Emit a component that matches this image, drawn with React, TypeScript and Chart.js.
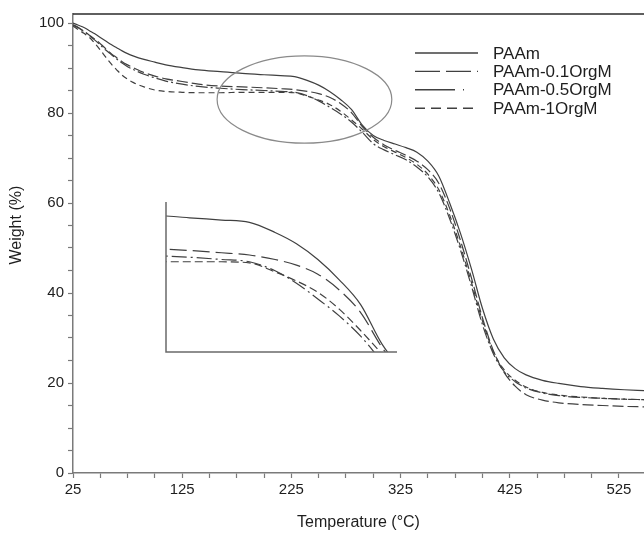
import React, { useEffect, useRef } from "react";
import { Chart, registerables } from "chart.js";

Chart.register(...registerables);

// ---- data ----
const temperatures = [
  25, 30, 35, 40, 45, 50, 55, 60, 65, 70, 75, 80,
  90, 100, 110, 125, 140, 160, 180, 200, 215, 228,
  240, 250, 260, 270, 280, 290, 300, 310, 320, 330,
  340, 350, 360, 370, 380, 390, 400, 410, 420, 430,
  440, 455, 470, 490, 510, 530, 548,
];

const paam = [
  100, 99.5, 99.0, 98.3, 97.6, 96.8, 96.0, 95.2, 94.5, 93.8, 93.2, 92.7,
  91.9, 91.3, 90.7, 90.1, 89.6, 89.2, 88.8, 88.5, 88.3, 88.1,
  87.2, 86.2, 84.8, 83.0, 80.8, 77.3, 75.0, 73.9, 73.1, 72.3,
  71.3, 69.3, 66.0, 60.0, 53.2, 45.3, 36.6, 29.8, 25.6, 23.2,
  21.8, 20.6, 19.9, 19.2, 18.8, 18.5, 18.3,
];

const paam01 = [
  99.6, 99.0, 98.2, 97.3, 96.4, 95.4, 94.3, 93.2, 92.3, 91.4, 90.7, 90.1,
  89.0, 88.2, 87.6, 87.0, 86.4, 86.0, 85.8, 85.6, 85.4, 85.2,
  84.8, 84.3, 83.5, 82.1, 80.1, 77.0, 74.6, 72.9, 71.7, 70.6,
  69.3, 67.4, 64.4, 58.8, 51.6, 43.3, 34.5, 27.2, 22.3, 19.3,
  17.4, 16.2, 15.6, 15.2, 15.0, 14.8, 14.7,
];

const paam05 = [
  99.5, 98.9, 98.1, 97.2, 96.2, 95.1, 94.0, 93.0, 92.0, 91.1, 90.3, 89.7,
  88.6, 87.8, 87.1, 86.4, 85.9, 85.5, 85.2, 85.0, 84.8, 84.6,
  83.8, 82.7, 81.3, 79.8, 78.0, 75.7, 73.2, 71.8, 70.7, 69.6,
  68.0, 65.8, 62.3, 56.5, 49.5, 41.5, 33.0, 26.5, 22.5, 20.3,
  18.9, 17.8, 17.2, 16.8, 16.6, 16.4, 16.3,
];

const paam1 = [
  99.3, 98.5, 97.7, 96.8, 95.5, 94.0, 92.4, 90.9, 89.6, 88.4, 87.5, 86.8,
  85.8, 85.1, 84.8, 84.6, 84.5, 84.5, 84.6, 84.6, 84.6, 84.5,
  83.7, 82.9, 81.9, 80.4, 78.5, 76.4, 74.1, 72.5, 71.3, 70.1,
  68.6, 66.4, 63.0, 57.3, 50.3, 42.3, 33.8, 27.0, 22.9, 20.6,
  19.1, 17.9, 17.3, 16.9, 16.6, 16.4, 16.3,
];

const seriesLabels = ["PAAm", "PAAm-0.1OrgM", "PAAm-0.5OrgM", "PAAm-1OrgM"];
const seriesValues = [paam, paam01, paam05, paam1];

const xTickLabels = [25, 125, 225, 325, 425, 525];
const yTickLabels = [0, 20, 40, 60, 80, 100];

const xMin = 25;
const xMax = 548;
const yMin = 0;
const yMax = 102;

// highlighted region (ellipse) in data units, and inset view range
const highlightCenter = { t: 237, w: 83 };
const highlightRadius = { t: 80, w: 9.7 };
const insetRange = { tMin: 189, tMax: 297, wMin: 76.6, wMax: 89.9 };

// ---- styles ----
const FONT = "'Liberation Sans', Arial, Helvetica, sans-serif";
const LINE_COLOR = "#404040";
const AXIS_COLOR = "#7a7a7a";
const TEXT_COLOR = "#1e1e1e";
const mainDashes = [[], [11, 4], [12, 3, 2, 3], [6, 4]];
const insetDashes = [[], [17, 6], [15, 4, 2, 4], [8, 4]];
const legendDashes = [[], [25, 6], [40, 8, 1, 20], [10, 6]];

function buildDatasets(dashes: number[][]) {
  return seriesValues.map((vals, i) => ({
    label: seriesLabels[i],
    data: temperatures.map((t, j) => ({ x: t, y: vals[j] })),
    borderColor: LINE_COLOR,
    backgroundColor: LINE_COLOR,
    borderWidth: 1.2,
    borderDash: dashes[i],
    pointRadius: 0,
    fill: false,
    cubicInterpolationMode: "monotone" as const,
  }));
}

const decorPlugin = {
  id: "decor",
  afterDatasetsDraw(chart: any) {
    const { ctx, chartArea, scales } = chart;
    const xs = scales.x;
    const ys = scales.y;
    ctx.save();
    // top frame line
    ctx.strokeStyle = "#2a2a2a";
    ctx.lineWidth = 1.5;
    ctx.beginPath();
    ctx.moveTo(chartArea.left, chartArea.top);
    ctx.lineTo(chartArea.right, chartArea.top);
    ctx.stroke();

    // ellipse marking the magnified region
    const cx = xs.getPixelForValue(highlightCenter.t);
    const cy = ys.getPixelForValue(highlightCenter.w);
    const rx = Math.abs(xs.getPixelForValue(highlightCenter.t + highlightRadius.t) - cx);
    const ry = Math.abs(ys.getPixelForValue(highlightCenter.w + highlightRadius.w) - cy);
    ctx.strokeStyle = "#8a8a8a";
    ctx.lineWidth = 1.2;
    ctx.beginPath();
    ctx.ellipse(cx, cy, rx, ry, 0, 0, Math.PI * 2);
    ctx.stroke();

    // legend
    ctx.font = `17px ${FONT}`;
    ctx.textBaseline = "middle";
    ctx.textAlign = "left";
    const lx0 = chartArea.left + 342;
    const lx1 = chartArea.left + 405;
    const tx = chartArea.left + 420;
    chart.data.datasets.forEach((ds: any, i: number) => {
      const y = chartArea.top + 39 + i * 18.4;
      ctx.strokeStyle = LINE_COLOR;
      ctx.lineWidth = 1.4;
      ctx.setLineDash(legendDashes[i]);
      ctx.beginPath();
      ctx.moveTo(lx0, y);
      ctx.lineTo(lx1, y);
      ctx.stroke();
      ctx.setLineDash([]);
      ctx.fillStyle = TEXT_COLOR;
      ctx.fillText(ds.label, tx, y + 1);
    });

    // y-axis title
    ctx.save();
    ctx.translate(17, chartArea.top + (chartArea.bottom - chartArea.top) * 0.46);
    ctx.rotate(-Math.PI / 2);
    ctx.textAlign = "center";
    ctx.textBaseline = "middle";
    ctx.font = `16px ${FONT}`;
    ctx.fillStyle = TEXT_COLOR;
    ctx.fillText("Weight (%)", 0, 0);
    ctx.restore();
    ctx.restore();
  },
};

const insetAxesPlugin = {
  id: "insetAxes",
  afterDatasetsDraw(chart: any) {
    const { ctx, chartArea } = chart;
    ctx.save();
    ctx.strokeStyle = "#6a6a6a";
    ctx.lineWidth = 1.5;
    ctx.beginPath();
    ctx.moveTo(chartArea.left, chartArea.top);
    ctx.lineTo(chartArea.left, chartArea.bottom);
    ctx.lineTo(chartArea.right, chartArea.bottom);
    ctx.stroke();
    ctx.restore();
  },
};

export default function App() {
  const mainRef = useRef<HTMLCanvasElement>(null);
  const insetRef = useRef<HTMLCanvasElement>(null);

  useEffect(() => {
    Chart.defaults.font.family = FONT;
    const xMinor: number[] = [];
    for (let v = xTickLabels[0]; v <= xTickLabels[xTickLabels.length - 1]; v += 25) xMinor.push(v);
    const yMinor: number[] = [];
    for (let v = yTickLabels[0]; v <= yTickLabels[yTickLabels.length - 1]; v += 5) yMinor.push(v);

    const main = new Chart(mainRef.current!, {
      type: "line",
      data: { datasets: buildDatasets(mainDashes) as any },
      options: {
        animation: false,
        responsive: true,
        maintainAspectRatio: false,
        layout: { padding: { top: 14, right: 0, bottom: 0, left: 0 } },
        plugins: { legend: { display: false }, tooltip: { enabled: false } },
        scales: {
          x: {
            type: "linear",
            min: xMin,
            max: xMax,
            afterBuildTicks: (s: any) => {
              s.ticks = xMinor.map((v) => ({ value: v }));
            },
            afterFit: (s: any) => {
              s.height = 62;
            },
            ticks: {
              autoSkip: false,
              maxRotation: 0,
              padding: 3,
              color: TEXT_COLOR,
              font: { size: 15, family: FONT },
              callback: (v: any) => (xTickLabels.includes(Number(v)) ? String(v) : ""),
            },
            grid: { drawOnChartArea: false, drawTicks: true, tickLength: 5, color: AXIS_COLOR, tickWidth: 1.2 },
            border: { display: true, color: AXIS_COLOR, width: 1.5 },
            title: {
              display: true,
              text: "Temperature (°C)",
              color: TEXT_COLOR,
              font: { size: 16, family: FONT },
              padding: { top: 0, bottom: 3 },
            },
          },
          y: {
            type: "linear",
            min: yMin,
            max: yMax,
            afterBuildTicks: (s: any) => {
              s.ticks = yMinor.map((v) => ({ value: v }));
            },
            afterFit: (s: any) => {
              s.width = 73;
            },
            ticks: {
              autoSkip: false,
              padding: 4,
              color: TEXT_COLOR,
              font: { size: 15, family: FONT },
              callback: (v: any) => (yTickLabels.includes(Number(v)) ? String(v) : ""),
            },
            grid: { drawOnChartArea: false, drawTicks: true, tickLength: 5, color: AXIS_COLOR, tickWidth: 1.2 },
            border: { display: true, color: AXIS_COLOR, width: 1.5 },
          },
        },
      } as any,
      plugins: [decorPlugin],
    });

    const inset = new Chart(insetRef.current!, {
      type: "line",
      data: { datasets: buildDatasets(insetDashes) as any },
      options: {
        animation: false,
        responsive: true,
        maintainAspectRatio: false,
        layout: { padding: 1 },
        plugins: { legend: { display: false }, tooltip: { enabled: false } },
        scales: {
          x: { type: "linear", display: false, min: insetRange.tMin, max: insetRange.tMax },
          y: { type: "linear", display: false, min: insetRange.wMin, max: insetRange.wMax },
        },
      } as any,
      plugins: [insetAxesPlugin],
    });

    return () => {
      main.destroy();
      inset.destroy();
    };
  }, []);

  return (
    <div style={{ position: "fixed", left: 0, top: 0, width: 644, height: 535, background: "#fff" }}>
      <div style={{ position: "absolute", left: 0, top: 0, width: 644, height: 535 }}>
        <canvas ref={mainRef} />
      </div>
      <div style={{ position: "absolute", left: 165, top: 201, width: 233, height: 152 }}>
        <canvas ref={insetRef} />
      </div>
    </div>
  );
}
